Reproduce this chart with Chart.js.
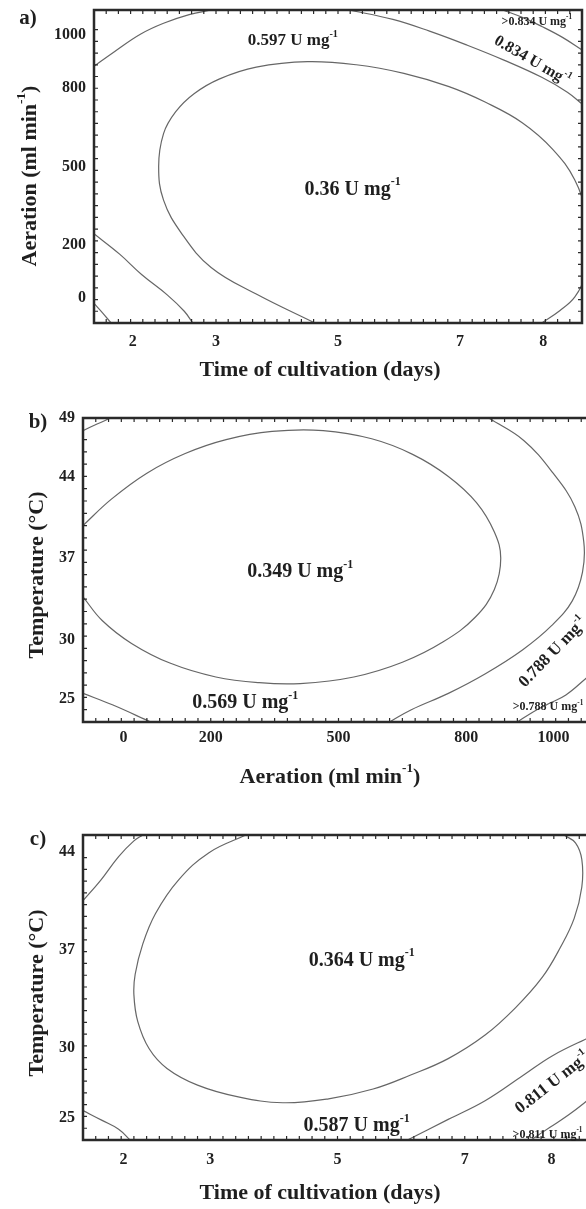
<!DOCTYPE html>
<html>
<head>
<meta charset="utf-8">
<script src="https://cdn.jsdelivr.net/npm/chart.js@4.4.1/dist/chart.umd.min.js"></script>
<style>
  html, body { margin: 0; padding: 0; background: #fff; width: 586px; height: 1209px; overflow: hidden; }
  .panel { position: absolute; left: 0; }
</style>
</head>
<body>
<div class="panel" style="top:0"><canvas id="chartA" width="600" height="400"></canvas></div>
<div class="panel" style="top:400px"><canvas id="chartB" width="600" height="390"></canvas></div>
<div class="panel" style="top:790px"><canvas id="chartC" width="600" height="419"></canvas></div>
<script>
// coded factor levels (central composite design, alpha ~1.68)
const TIME_TICKS = [-1.682, -1, 0, 1, 1.682];
const TIME_LABELS = ["2", "3", "5", "7", "8"];
const AER_TICKS = [-1.682, -1, 0, 1, 1.682];
const AER_LABELS = ["0", "200", "500", "800", "1000"];
const TEMP_TICKS_B = [-1.714, -1, 0, 1, 1.714];
const TEMP_LABELS_B = ["25", "30", "37", "44", "49"];
const TEMP_TICKS_C = [-1.714, -1, 0, 1];
const TEMP_LABELS_C = ["25", "30", "37", "44"];

// a) time x aeration, contour lines as [x, y] in coded units
const A_INNER = [[-0.19,-2.0],[-0.67,-1.63],[-1.04,-1.29],[-1.28,-0.86],[-1.43,-0.43],[-1.47,0.0],[-1.43,0.42],[-1.33,0.70],[-1.18,0.93],[-0.97,1.12],[-0.67,1.27],[-0.25,1.34],[0.15,1.30],[0.54,1.19],[0.91,1.02],[1.21,0.82],[1.51,0.56],[1.76,0.22],[1.94,-0.17],[2.03,-0.6],[2.05,-1.05],[2.02,-1.42],[1.94,-1.67],[1.82,-1.84],[1.67,-2.0]];
const A_OUTER_UL = [[-2.0,1.28],[-1.83,1.47],[-1.62,1.69],[-1.43,1.83],[-1.22,1.94],[-1.04,2.0]];
const A_OUTER_UR = [[0.09,2.0],[0.45,1.88],[0.75,1.73],[1.06,1.55],[1.36,1.36],[1.67,1.14],[1.88,0.95],[2.0,0.8]];
const A_OUTER_LL = [[-2.0,-0.86],[-1.79,-1.12],[-1.61,-1.38],[-1.40,-1.64],[-1.26,-1.85],[-1.19,-2.0]];
const A_CORNER = [[-2.0,-1.75],[-1.93,-1.87],[-1.86,-2.0]];
const A_HIGH = [[1.35,2.0],[1.52,1.90],[1.67,1.79],[1.84,1.65],[2.0,1.49]];
const A_LEVELS = ["0.597", "0.36", "0.834"];

// b) aeration x temperature
const B_INNER = [[-2.0,0.40],[-1.78,0.72],[-1.50,1.04],[-1.20,1.28],[-0.88,1.45],[-0.52,1.55],[-0.12,1.56],[0.26,1.46],[0.58,1.27],[0.86,1.00],[1.08,0.68],[1.22,0.32],[1.27,0.0],[1.22,-0.38],[1.07,-0.72],[0.82,-1.02],[0.50,-1.27],[0.12,-1.45],[-0.30,-1.53],[-0.62,-1.52],[-0.96,-1.45],[-1.32,-1.28],[-1.62,-1.04],[-1.85,-0.76],[-2.0,-0.47]];
const B_RIGHT = [[1.18,1.71],[1.45,1.44],[1.68,1.04],[1.85,0.63],[1.92,0.2],[1.91,-0.17],[1.83,-0.52],[1.67,-0.82],[1.44,-1.12],[1.15,-1.41],[0.86,-1.65],[0.57,-1.85],[0.40,-2.0]];
const B_UL = [[-2.0,1.56],[-1.89,1.64],[-1.79,1.71]];
const B_LL = [[-2.0,-1.65],[-1.77,-1.79],[-1.47,-2.0]];
const B_HIGH = [[1.40,-2.0],[1.52,-1.88],[1.64,-1.78],[1.78,-1.67],[1.95,-1.45]];
const B_LEVELS = ["0.349", "0.569", "0.788"];

// c) time x temperature
const C_INNER = [[-0.72,1.17],[-1.01,0.99],[-1.25,0.71],[-1.43,0.37],[-1.53,0.06],[-1.59,-0.25],[-1.60,-0.46],[-1.57,-0.73],[-1.48,-1.01],[-1.34,-1.21],[-1.10,-1.38],[-0.78,-1.50],[-0.43,-1.56],[-0.07,-1.52],[0.28,-1.42],[0.57,-1.28],[0.87,-1.11],[1.16,-0.87],[1.40,-0.59],[1.61,-0.28],[1.75,0.02],[1.86,0.32],[1.92,0.64],[1.92,0.92],[1.87,1.09],[1.78,1.17]];
const C_UL = [[-2.0,0.50],[-1.86,0.71],[-1.72,0.95],[-1.60,1.11],[-1.53,1.17]];
const C_LL = [[-2.0,-1.64],[-1.85,-1.74],[-1.72,-1.83],[-1.63,-1.94]];
const C_RIGHT = [[0.55,-1.94],[0.87,-1.73],[1.16,-1.54],[1.46,-1.28],[1.69,-1.08],[2.0,-0.88]];
const C_HIGH = [[1.52,-1.94],[1.67,-1.81],[1.82,-1.68],[2.0,-1.50]];
const C_LEVELS = ["0.364", "0.587", "0.811"];

const SERIF = "'Liberation Serif','Times New Roman',serif";
const INK = "#1f1f1f";
const LINE = "#666";

// "text^{sup}text" -> parts
function parseRich(s){
  const parts = [];
  const re = /\^\{([^}]*)\}/g;
  let last = 0, m;
  while ((m = re.exec(s))){
    if (m.index > last) parts.push({ t: s.slice(last, m.index) });
    parts.push({ t: m[1], sup: true });
    last = re.lastIndex;
  }
  if (last < s.length) parts.push({ t: s.slice(last) });
  return parts;
}
function drawRich(ctx, s, x, y, size, angle=0, align="center"){
  const parts = parseRich(s);
  const f = (sz) => `bold ${sz}px ${SERIF}`;
  let w = 0;
  for (const p of parts){ ctx.font = f(p.sup ? size*0.6 : size); w += ctx.measureText(p.t).width; }
  ctx.save();
  ctx.translate(x, y);
  ctx.rotate(angle*Math.PI/180);
  ctx.fillStyle = INK;
  ctx.textAlign = "left";
  ctx.textBaseline = "middle";
  let cx = align === "center" ? -w/2 : align === "right" ? -w : 0;
  for (const p of parts){
    const sz = p.sup ? size*0.6 : size;
    ctx.font = f(sz);
    ctx.fillText(p.t, cx, p.sup ? -size*0.38 : 0);
    cx += ctx.measureText(p.t).width;
  }
  ctx.restore();
}

function framePlugin(P){
  return {
    id: "frame",
    afterDatasetsDraw(chart){
      const { ctx, chartArea: a, scales: { x, y } } = chart;
      ctx.save();
      ctx.strokeStyle = "#2a2a2a";
      ctx.lineWidth = 1.2;
      ctx.beginPath();
      const nx = Math.floor((x.max - x.min)/P.minorX);
      for (let i = 1; i < nx; i++){
        const px = x.getPixelForValue(x.min + i*P.minorX);
        ctx.moveTo(px, a.bottom); ctx.lineTo(px, a.bottom - 4);
        ctx.moveTo(px, a.top); ctx.lineTo(px, a.top + 4);
      }
      const ny = Math.floor((y.max - y.min)/P.minorY);
      for (let i = 1; i < ny; i++){
        const py = y.getPixelForValue(y.min + i*P.minorY);
        ctx.moveTo(a.left, py); ctx.lineTo(a.left + 4, py);
        ctx.moveTo(a.right, py); ctx.lineTo(a.right - 4, py);
      }
      ctx.stroke();
      ctx.lineWidth = 2.5;
      ctx.strokeRect(a.left, a.top, a.right - a.left, a.bottom - a.top);
      ctx.restore();

      P.xTicks.forEach((v, i) => drawRich(ctx, P.xLabels[i], x.getPixelForValue(v), a.bottom + P.xLabelGap, 16));
      P.yTicks.forEach((v, i) => drawRich(ctx, P.yLabels[i], a.left - P.yLabelGap, y.getPixelForValue(v), 16, 0, "right"));

      for (const L of P.labels){
        drawRich(ctx, L.text, x.getPixelForValue(L.x), y.getPixelForValue(L.y), L.size, L.angle || 0);
      }
      drawRich(ctx, P.xTitle, P.xTitleAt[0], P.xTitleAt[1], 22);
      drawRich(ctx, P.yTitle, P.yTitleAt[0], P.yTitleAt[1], 22, -90);
      drawRich(ctx, P.letter, P.letterAt[0], P.letterAt[1], 21);
    }
  };
}

function makePanel(id, P){
  const datasets = P.curves.map(c => ({
    data: c.map(([x, y]) => ({ x, y })),
    showLine: true,
    borderColor: LINE,
    borderWidth: 1.2,
    pointRadius: 0,
    tension: 0.4,
    fill: false,
    clip: 0
  }));
  return new Chart(document.getElementById(id), {
    type: "scatter",
    data: { datasets },
    options: {
      responsive: false,
      animation: false,
      layout: { padding: P.pad },
      plugins: { legend: { display: false }, tooltip: { enabled: false } },
      scales: {
        x: { type: "linear", display: false, min: P.xRange[0], max: P.xRange[1] },
        y: { type: "linear", display: false, min: P.yRange[0], max: P.yRange[1] }
      }
    },
    plugins: [framePlugin(P)]
  });
}

const U = " U mg^{-1}";

makePanel("chartA", {
  pad: { left: 94, top: 10, right: 18, bottom: 77 },
  xRange: [-2, 2], yRange: [-2, 2],
  minorX: 0.1, minorY: 0.15,
  xTicks: TIME_TICKS, xLabels: TIME_LABELS, xLabelGap: 19,
  yTicks: AER_TICKS, yLabels: AER_LABELS, yLabelGap: 8,
  curves: [A_INNER, A_OUTER_UL, A_OUTER_UR, A_OUTER_LL, A_CORNER, A_HIGH],
  labels: [
    { text: A_LEVELS[0] + U, x: -0.37, y: 1.61, size: 17 },
    { text: A_LEVELS[1] + U, x: 0.12, y: -0.30, size: 20 },
    { text: ">" + A_LEVELS[2] + U, x: 1.63, y: 1.85, size: 12 },
    { text: A_LEVELS[2] + U, x: 1.59, y: 1.35, size: 16, angle: 30 }
  ],
  xTitle: "Time of cultivation (days)", xTitleAt: [320, 370],
  yTitle: "Aeration (ml min^{-1})", yTitleAt: [30, 176],
  letter: "a)", letterAt: [28, 19]
});

makePanel("chartB", {
  pad: { left: 83, top: 18, right: 6, bottom: 68 },
  xRange: [-2, 2], yRange: [-2, 1.714],
  minorX: 0.1, minorY: 0.15,
  xTicks: AER_TICKS, xLabels: AER_LABELS, xLabelGap: 16,
  yTicks: TEMP_TICKS_B, yLabels: TEMP_LABELS_B, yLabelGap: 8,
  curves: [B_INNER, B_RIGHT, B_UL, B_LL, B_HIGH],
  labels: [
    { text: B_LEVELS[0] + U, x: -0.30, y: -0.17, size: 20 },
    { text: B_LEVELS[1] + U, x: -0.73, y: -1.77, size: 20 },
    { text: B_LEVELS[2] + U, x: 1.68, y: -1.15, size: 17, angle: -46 },
    { text: ">" + B_LEVELS[2] + U, x: 1.64, y: -1.82, size: 12 }
  ],
  xTitle: "Aeration (ml min^{-1})", xTitleAt: [330, 377],
  yTitle: "Temperature (°C)", yTitleAt: [37, 175],
  letter: "b)", letterAt: [38, 23]
});

makePanel("chartC", {
  pad: { left: 83, top: 45, right: 8, bottom: 69 },
  xRange: [-2, 2], yRange: [-1.94, 1.17],
  minorX: 0.1, minorY: 0.12,
  xTicks: TIME_TICKS, xLabels: TIME_LABELS, xLabelGap: 20,
  yTicks: TEMP_TICKS_C, yLabels: TEMP_LABELS_C, yLabelGap: 8,
  curves: [C_INNER, C_UL, C_LL, C_RIGHT, C_HIGH],
  labels: [
    { text: C_LEVELS[0] + U, x: 0.19, y: -0.11, size: 20 },
    { text: C_LEVELS[1] + U, x: 0.15, y: -1.80, size: 20 },
    { text: C_LEVELS[2] + U, x: 1.69, y: -1.36, size: 17, angle: -38 },
    { text: ">" + C_LEVELS[2] + U, x: 1.65, y: -1.89, size: 12 }
  ],
  xTitle: "Time of cultivation (days)", xTitleAt: [320, 403],
  yTitle: "Temperature (°C)", yTitleAt: [37, 203],
  letter: "c)", letterAt: [38, 50]
});
</script>
</body>
</html>
